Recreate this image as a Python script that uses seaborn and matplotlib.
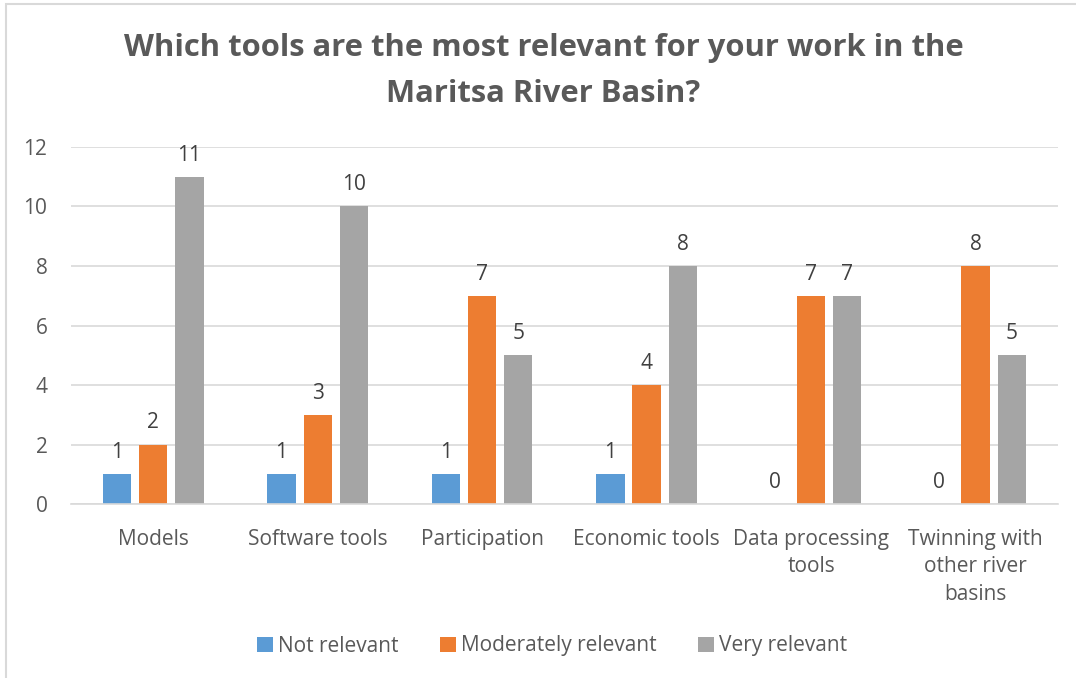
import matplotlib
matplotlib.use("Agg")
import matplotlib.pyplot as plt
import seaborn as sns
import pandas as pd
from matplotlib.patches import Rectangle

sns.set_style("white")
plt.rcParams['font.family'] = ['Open Sans', 'DejaVu Sans']

# data
kategorie = ["Models", "Software tools", "Participation", "Economic tools",
             "Data processing\ntools", "Twinning with\nother river\nbasins"]
serie = ["Not relevant", "Moderately relevant", "Very relevant"]
not_relevant = [1, 1, 1, 1, 0, 0]
moderately_relevant = [2, 3, 7, 4, 7, 8]
very_relevant = [11, 10, 5, 8, 7, 5]
kolory = ["#5B9BD5", "#ED7D31", "#A5A5A5"]

wiersze = []
for nazwa, wartosci in zip(serie, [not_relevant, moderately_relevant, very_relevant]):
    for kat, w in zip(kategorie, wartosci):
        wiersze.append({"kategoria": kat, "seria": nazwa, "wartosc": w})
df = pd.DataFrame(wiersze)

szary = "#595959"
fig = plt.figure(figsize=(10.76, 6.78), dpi=100)
ax = fig.add_axes([0.066, 0.2566, 0.917, 0.5266])

sns.barplot(data=df, x="kategoria", y="wartosc", hue="seria", hue_order=serie,
            order=kategorie, palette=kolory, width=0.66, gap=0.22,
            saturation=1, ax=ax, errorbar=None, linewidth=0)

for kont in ax.containers:
    ax.bar_label(kont, padding=8, fontsize=15, color="#404040")

ax.set_ylim(0, 12)
ax.set_yticks(range(0, 13, 2))
ax.yaxis.grid(True, color="#D9D9D9", linewidth=1.2)
ax.set_axisbelow(True)
for s in ["top", "right", "left"]:
    ax.spines[s].set_visible(False)
ax.spines["bottom"].set_color("#D9D9D9")
ax.spines["bottom"].set_linewidth(1.2)
ax.tick_params(axis="both", length=0, labelsize=15, colors=szary)
ax.tick_params(axis="x", pad=18)
ax.tick_params(axis="y", pad=17)
for t in ax.get_xticklabels():
    t.set_linespacing(1.4)
ax.set_xlabel("")
ax.set_ylabel("")
ax.set_xlim(-0.5, 5.5)

ax.legend(loc="center", ncol=3, frameon=False, fontsize=15, handlelength=0.75,
          handleheight=0.75, columnspacing=2.0, handletextpad=0.25, labelcolor=szary)
ax.get_legend().set_bbox_to_anchor((0.513, 1 - 646 / 678), transform=fig.transFigure)

fig.suptitle("Which tools are the most relevant for your work in the\nMaritsa River Basin?",
             x=0.505, y=0.952, fontsize=22.3, fontweight="bold", color=szary,
             linespacing=1.72)

# ramka wykresu (przycieta z prawej i od dolu)
fig.patches.append(Rectangle((6 / 1076, -0.1), 1.2, 1.1 - 4 / 678, transform=fig.transFigure,
                             fill=False, edgecolor="#D9D9D9", linewidth=1.5))

fig.savefig("out.png", dpi=100)
